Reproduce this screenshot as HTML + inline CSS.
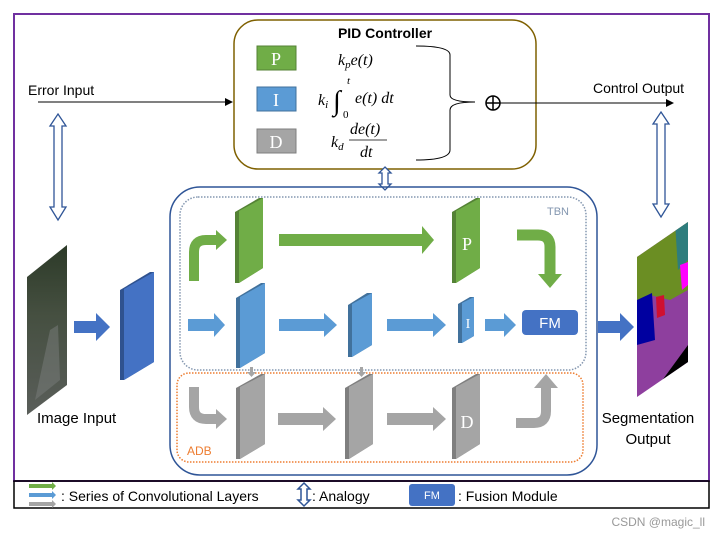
<!DOCTYPE html>
<html><head><meta charset="utf-8"><style>
html,body{margin:0;padding:0;background:#fff;}
svg{display:block;font-family:"Liberation Sans",sans-serif;}
.m{font-family:"Liberation Serif",serif;font-style:italic;}
</style></head><body>
<svg width="718" height="537" viewBox="0 0 718 537" xmlns="http://www.w3.org/2000/svg">
<defs>
<marker id="ah" markerWidth="8" markerHeight="8" refX="7" refY="4" orient="auto" markerUnits="userSpaceOnUse"><path d="M0,0 L8,4 L0,8 z" fill="#000"/></marker>
<clipPath id="seg"><polygon points="637,257 688,222 688,362 637,397"/></clipPath>
<linearGradient id="st" x1="0" y1="0" x2="0" y2="1"><stop offset="0" stop-color="#2c3a28"/><stop offset="0.4" stop-color="#454f40"/><stop offset="1" stop-color="#5a5e5a"/></linearGradient>
</defs>
<rect x="14" y="14" width="695" height="467" fill="none" stroke="#7030a0" stroke-width="2"/>
<rect x="14" y="481" width="695" height="27" fill="none" stroke="#000" stroke-width="1.5"/>
<rect x="234" y="20" width="302" height="149" rx="24" fill="#fff" stroke="#7f6000" stroke-width="1.5"/>
<text x="385" y="38" text-anchor="middle" font-weight="bold" font-size="14">PID Controller</text>
<rect x="257" y="46" width="39" height="24" fill="#70ad47" stroke="#548235"/><text x="276" y="65" text-anchor="middle" fill="#fff" font-family="Liberation Serif" font-size="18">P</text>
<rect x="257" y="87" width="39" height="24" fill="#5b9bd5" stroke="#41719c"/><text x="276" y="106" text-anchor="middle" fill="#fff" font-family="Liberation Serif" font-size="18">I</text>
<rect x="257" y="129" width="39" height="24" fill="#a5a5a5" stroke="#7f7f7f"/><text x="276" y="148" text-anchor="middle" fill="#fff" font-family="Liberation Serif" font-size="18">D</text>
<text class="m" x="338" y="65" font-size="16">k<tspan font-size="11" dy="3">p</tspan><tspan dy="-3">e(t)</tspan></text>
<text class="m" x="318" y="105" font-size="16">k<tspan font-size="11" dy="3">i</tspan></text>
<text x="333" y="110" font-size="28" font-family="Liberation Serif">∫</text>
<text class="m" x="347" y="84" font-size="11">t</text>
<text x="343" y="118" font-size="11" font-family="Liberation Serif">0</text>
<text class="m" x="355" y="103" font-size="16">e(t) dt</text>
<text class="m" x="331" y="147" font-size="16">k<tspan font-size="11" dy="3">d</tspan></text>
<text class="m" x="350" y="134" font-size="16">de(t)</text>
<line x1="349" y1="140" x2="387" y2="140" stroke="#000" stroke-width="0.8"/>
<text class="m" x="360" y="157" font-size="16">dt</text>
<path d="M416,46 Q450,46 450,55 L450,95 Q450,102 475,102 Q450,102 450,110 L450,150 Q450,160 416,160" fill="none" stroke="#000" stroke-width="1"/>
<circle cx="493" cy="103" r="7" fill="none" stroke="#000" stroke-width="1.5"/>
<line x1="486" y1="103" x2="500" y2="103" stroke="#000" stroke-width="1.5"/><line x1="493" y1="96" x2="493" y2="110" stroke="#000" stroke-width="1.5"/>
<line x1="38" y1="102" x2="232" y2="102" stroke="#000" marker-end="url(#ah)"/>
<line x1="500" y1="103" x2="673" y2="103" stroke="#000" marker-end="url(#ah)"/>
<text x="28" y="95" font-size="14">Error Input</text>
<text x="593" y="93" font-size="14">Control Output</text>
<path d="M58,114 L66,126 L62,126 L62,207 L66,207 L58,220 L50,207 L54,207 L54,126 L50,126 Z" fill="#fff" stroke="#2f5597" stroke-width="1.3"/>
<path d="M661,112 L669,124 L665,124 L665,204 L669,204 L661,217 L653,204 L657,204 L657,124 L653,124 Z" fill="#fff" stroke="#2f5597" stroke-width="1.3"/>
<path d="M385,167 L391,173 L388,173 L388,184 L391,184 L385,190 L379,184 L382,184 L382,173 L379,173 Z" fill="#fff" stroke="#2f5597" stroke-width="1.3"/>
<polygon points="27,277 67,245 67,385 27,415" fill="url(#st)"/>
<polygon points="35,400 50,330 58,325 60,380" fill="#7a7e7c" opacity="0.5"/>
<text x="37" y="423" font-size="15">Image Input</text>
<polygon points="74,321 96,321 96,313 110,327 96,341 96,333 74,333" fill="#4472c4"/>
<polygon points="120,290 150,272 154,272 154,362 124,380 120,380" fill="#2f528f"/>
<polygon points="124,289 154,272 154,362 124,380" fill="#4472c4"/>
<g clip-path="url(#seg)">
<rect x="637" y="222" width="51" height="180" fill="#8e3f9e"/>
<polygon points="637,222 688,222 688,290 670,300 650,295 637,300" fill="#6b8e23"/>
<polygon points="675,222 688,222 688,260 678,270" fill="#2e7d7d"/>
<polygon points="680,265 688,262 688,285 682,290" fill="#ff00ff"/>
<polygon points="637,300 652,293 655,340 637,345" fill="#0000a0"/>
<polygon points="656,297 664,295 665,315 657,318" fill="#d01030"/>
<polygon points="650,397 688,345 688,400" fill="#000"/>
</g>
<polygon points="598,321 620,321 620,313 634,327 620,341 620,333 598,333" fill="#4472c4"/>
<text x="648" y="423" font-size="15" text-anchor="middle">Segmentation</text>
<text x="648" y="444" font-size="15" text-anchor="middle">Output</text>
<rect x="170" y="187" width="427" height="288" rx="30" fill="none" stroke="#2f5597" stroke-width="1.5"/>
<rect x="180" y="197" width="406" height="173" rx="18" fill="none" stroke="#8497b0" stroke-width="1.5" stroke-dasharray="1.5 1.5"/>
<rect x="177" y="373" width="406" height="89" rx="12" fill="none" stroke="#ed7d31" stroke-width="1.5" stroke-dasharray="1.5 1.5"/>
<text x="547" y="215" font-size="11" fill="#8497b0">TBN</text>
<text x="187" y="455" font-size="12" fill="#ed7d31">ADB</text>
<path d="M194,281 L194,252 Q194,240 206,240 L218,240" fill="none" stroke="#70ad47" stroke-width="10"/>
<polygon points="216,230 227,240 216,250" fill="#70ad47"/>
<polygon points="235,212 259,198 263,198 263,268 239,283 235,283" fill="#548235"/>
<polygon points="239,211 263,198 263,268 239,283" fill="#70ad47"/>
<polygon points="279,234 422,234 422,226 434,240 422,254 422,246 279,246" fill="#70ad47"/>
<polygon points="452,212 476,198 480,198 480,268 456,283 452,283" fill="#548235"/>
<polygon points="456,211 480,198 480,268 456,283" fill="#70ad47"/>
<text x="467" y="250" text-anchor="middle" font-family="Liberation Serif" font-size="18" fill="#fff">P</text>
<path d="M517,235 L538,235 Q550,235 550,247 L550,276" fill="none" stroke="#70ad47" stroke-width="11"/>
<polygon points="538,274 562,274 550,288" fill="#70ad47"/>
<polygon points="188,319 214,319 214,313 225,325 214,337 214,331 188,331" fill="#5b9bd5"/>
<polygon points="236,298 261,283 265,283 265,353 240,368 236,368" fill="#41719c"/>
<polygon points="240,297 265,283 265,353 240,368" fill="#5b9bd5"/>
<polygon points="279,319 324,319 324,313 337,325 324,337 324,331 279,331" fill="#5b9bd5"/>
<polygon points="348,305 367,293 372,293 372,345 352,357 348,357" fill="#41719c"/>
<polygon points="352,304 372,293 372,345 352,357" fill="#5b9bd5"/>
<polygon points="387,319 433,319 433,313 446,325 433,337 433,331 387,331" fill="#5b9bd5"/>
<polygon points="458,304 470,297 474,297 474,336 462,343 458,343" fill="#41719c"/>
<polygon points="462,303 474,297 474,336 462,343" fill="#5b9bd5"/>
<text x="468" y="328" text-anchor="middle" font-family="Liberation Serif" font-size="14" fill="#fff">I</text>
<polygon points="485,319 504,319 504,313 516,325 504,337 504,331 485,331" fill="#5b9bd5"/>
<rect x="522" y="310" width="56" height="25" rx="4" fill="#4472c4"/>
<text x="550" y="328" text-anchor="middle" fill="#fff" font-size="15">FM</text>
<polygon points="250,367 253,367 253,372 256,372 251.5,377 247,372 250,372" fill="#a5a5a5"/>
<polygon points="360,367 363,367 363,372 366,372 361.5,377 357,372 360,372" fill="#a5a5a5"/>
<path d="M194,387 L194,407 Q194,419 206,419 L218,419" fill="none" stroke="#a5a5a5" stroke-width="10"/>
<polygon points="216,409 227,419 216,429" fill="#a5a5a5"/>
<polygon points="236,388 261,374 265,374 265,444 240,459 236,459" fill="#7f7f7f"/>
<polygon points="240,387 265,374 265,444 240,459" fill="#a5a5a5"/>
<polygon points="278,413 323,413 323,407 336,419 323,431 323,425 278,425" fill="#a5a5a5"/>
<polygon points="345,388 369,374 373,374 373,444 349,459 345,459" fill="#7f7f7f"/>
<polygon points="349,387 373,374 373,444 349,459" fill="#a5a5a5"/>
<polygon points="387,413 433,413 433,407 446,419 433,431 433,425 387,425" fill="#a5a5a5"/>
<polygon points="452,388 476,374 480,374 480,444 456,459 452,459" fill="#7f7f7f"/>
<polygon points="456,387 480,374 480,444 456,459" fill="#a5a5a5"/>
<text x="467" y="428" text-anchor="middle" font-family="Liberation Serif" font-size="18" fill="#fff">D</text>
<path d="M516,423 L534,423 Q546,423 546,411 L546,386" fill="none" stroke="#a5a5a5" stroke-width="10"/>
<polygon points="534,388 558,388 546,374" fill="#a5a5a5"/>
<polygon points="29,484 52,484 52,482 56,486 52,490 52,488 29,488" fill="#70ad47"/>
<polygon points="29,493 52,493 52,491 56,495 52,499 52,497 29,497" fill="#5b9bd5"/>
<polygon points="29,502 52,502 52,500 56,504 52,508 52,506 29,506" fill="#a5a5a5"/>
<text x="61" y="501" font-size="14">: Series of Convolutional Layers</text>
<path d="M304,483 L310,489 L307,489 L307,500 L310,500 L304,506 L298,500 L301,500 L301,489 L298,489 Z" fill="#fff" stroke="#2f5597" stroke-width="1.5"/>
<text x="312" y="501" font-size="14">: Analogy</text>
<rect x="409" y="484" width="46" height="22" rx="3" fill="#4472c4"/>
<text x="432" y="499" text-anchor="middle" fill="#fff" font-size="11">FM</text>
<text x="458" y="501" font-size="14">: Fusion Module</text>
<text x="705" y="526" text-anchor="end" font-size="12" fill="#999">CSDN @magic_ll</text>
</svg>
</body></html>
